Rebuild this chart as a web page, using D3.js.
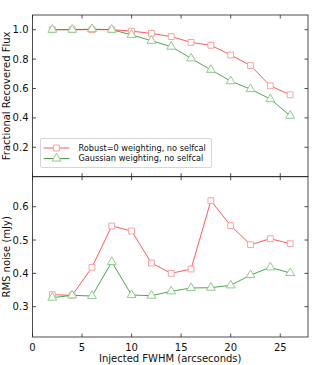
<!DOCTYPE html>
<html>
<head>
<meta charset="utf-8">
<script src="https://cdn.jsdelivr.net/npm/d3@7"></script>
<style>
body { margin: 0; background: #fff; }
svg { font-family: "DejaVu Sans", sans-serif; }
</style>
</head>
<body>
<script>
var w = 314
var h = 365

var fwhm = [2, 4, 6, 8, 10, 12, 14, 16, 18, 20, 22, 24, 26]
var fluxRobust = [1.0, 1.0, 1.0, 1.0, 0.99, 0.975, 0.953, 0.914, 0.894, 0.828, 0.756, 0.618, 0.557]
var fluxGauss = [1.0, 1.0, 1.004, 1.0, 0.965, 0.925, 0.885, 0.805, 0.727, 0.65, 0.596, 0.528, 0.415]
var rmsRobust = [0.336, 0.334, 0.418, 0.542, 0.527, 0.431, 0.40, 0.413, 0.618, 0.543, 0.486, 0.504, 0.489]
var rmsGauss = [0.327, 0.334, 0.332, 0.434, 0.335, 0.333, 0.346, 0.356, 0.357, 0.364, 0.395, 0.418, 0.401]
var xTicks = [0, 5, 10, 15, 20, 25]
var fluxTicks = [0.2, 0.4, 0.6, 0.8, 1.0]
var rmsTicks = [0.3, 0.4, 0.5, 0.6]
var legendLabels = ["Robust=0 weighting, no selfcal", "Gaussian weighting, no selfcal"]

var red = "#ff4848", redMark = "#ffa0a0"
var green = "#3c9a3c", greenMark = "#8fcc8f"

var left = 32.5, right = 308
var x = d3.scaleLinear().domain([0, 27.8]).range([left, right])
var yTop = d3.scaleLinear().domain([0, 1.1]).range([176.7, 15])
var yBot = d3.scaleLinear().domain([0.209, 0.69]).range([337, 176.7])

var svg = d3.select("body")
    .append("svg")
    .attr("width", w)
    .attr("height", h)

var tick = 3.5

function panel(y, ticks, fmt, a, b, label) {
    var g = svg.append("g")
    var y0 = y.range()[0], y1 = y.range()[1]
    g.append("rect")
        .attr("x", left).attr("y", y1)
        .attr("width", right - left).attr("height", y0 - y1)
        .attr("fill", "none").attr("stroke", "#222").attr("stroke-width", 0.8)

    // inward ticks on all four sides
    xTicks.forEach(function (t) {
        g.append("line").attr("x1", x(t)).attr("x2", x(t)).attr("y1", y0).attr("y2", y0 - tick)
            .attr("stroke", "#222").attr("stroke-width", 0.8)
        g.append("line").attr("x1", x(t)).attr("x2", x(t)).attr("y1", y1).attr("y2", y1 + tick)
            .attr("stroke", "#222").attr("stroke-width", 0.8)
    })
    ticks.forEach(function (t) {
        g.append("line").attr("x1", left).attr("x2", left + tick).attr("y1", y(t)).attr("y2", y(t))
            .attr("stroke", "#222").attr("stroke-width", 0.8)
        g.append("line").attr("x1", right).attr("x2", right - tick).attr("y1", y(t)).attr("y2", y(t))
            .attr("stroke", "#222").attr("stroke-width", 0.8)
        g.append("text").attr("x", left - 4).attr("y", y(t)).attr("dy", "0.35em")
            .attr("text-anchor", "end").attr("font-size", 10).attr("fill", "#111")
            .text(fmt(t))
    })

    g.append("text")
        .attr("transform", "translate(9.5," + ((y0 + y1) / 2) + ") rotate(-90)")
        .attr("text-anchor", "middle").attr("font-size", 10).attr("fill", "#111")
        .text(label)

    var line = d3.line()
        .x(function (d, i) { return x(fwhm[i]) })
        .y(function (d) { return y(d) })

    g.append("path").attr("d", line(a)).attr("fill", "none").attr("stroke", red).attr("stroke-width", 0.9)
    g.append("path").attr("d", line(b)).attr("fill", "none").attr("stroke", green).attr("stroke-width", 0.9)

    g.selectAll(".sq").data(a).enter().append("path")
        .attr("d", d3.symbol().type(d3.symbolSquare).size(34))
        .attr("transform", function (d, i) { return "translate(" + x(fwhm[i]) + "," + y(d) + ")" })
        .attr("fill", "#fff").attr("stroke", redMark).attr("stroke-width", 1)
    g.selectAll(".tr").data(b).enter().append("path")
        .attr("d", d3.symbol().type(d3.symbolTriangle).size(34))
        .attr("transform", function (d, i) { return "translate(" + x(fwhm[i]) + "," + y(d) + ")" })
        .attr("fill", "#fff").attr("stroke", greenMark).attr("stroke-width", 1)
}

panel(yTop, fluxTicks, d3.format(".1f"), fluxRobust, fluxGauss, "Fractional Recovered Flux")
panel(yBot, rmsTicks, d3.format(".1f"), rmsRobust, rmsGauss, "RMS noise (mJy)")

// x tick labels + axis title
xTicks.forEach(function (t) {
    svg.append("text").attr("x", x(t)).attr("y", 347.5).attr("dy", "0.35em")
        .attr("text-anchor", "middle").attr("font-size", 10).attr("fill", "#111")
        .text(t)
})
svg.append("text").attr("x", (left + right) / 2).attr("y", 362)
    .attr("text-anchor", "middle").attr("font-size", 10).attr("fill", "#111")
    .text("Injected FWHM (arcseconds)")

// legend
var lg = svg.append("g")
lg.append("rect").attr("x", 40.5).attr("y", 138.5).attr("width", 171).attr("height", 29).attr("rx", 1.5)
    .attr("fill", "#fff").attr("stroke", "#ccc").attr("stroke-width", 0.8)
var cols = [[red, redMark, d3.symbolSquare], [green, greenMark, d3.symbolTriangle]]
legendLabels.forEach(function (lab, i) {
    var ly = 148 + i * 10.5
    lg.append("line").attr("x1", 43.5).attr("x2", 69.5).attr("y1", ly).attr("y2", ly)
        .attr("stroke", cols[i][0]).attr("stroke-width", 0.9)
    lg.append("path").attr("d", d3.symbol().type(cols[i][2]).size(34))
        .attr("transform", "translate(56.5," + ly + ")")
        .attr("fill", "#fff").attr("stroke", cols[i][1]).attr("stroke-width", 1)
    lg.append("text").attr("x", 78.5).attr("y", ly).attr("dy", "0.35em")
        .attr("font-size", 8.2).attr("fill", "#111").text(lab)
})
</script>
</body>
</html>
